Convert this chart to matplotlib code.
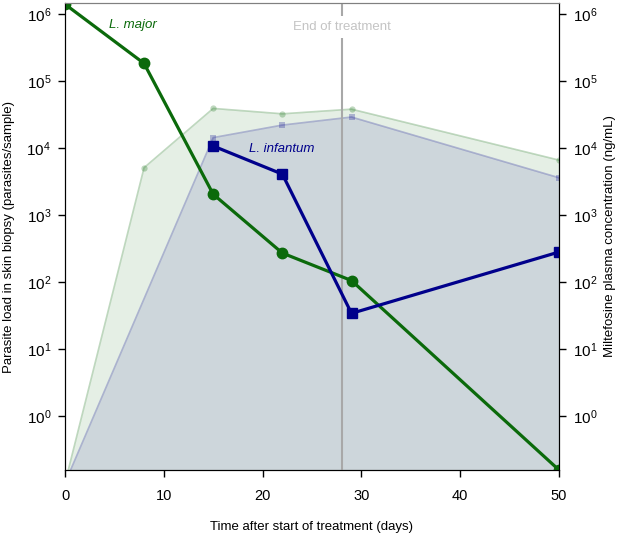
import matplotlib
matplotlib.use('Agg')
import matplotlib.pyplot as plt

plt.rcParams['font.family'] = ['Liberation Sans', 'DejaVu Sans']
plt.rcParams['mathtext.fontset'] = 'custom'
plt.rcParams['mathtext.rm'] = 'Liberation Sans'

# parasite load (skin biopsy)
major_days = [0, 8, 15, 22, 29, 50]
major_load = [1.4e6, 1.83e5, 2040, 270, 105, 0.156]
infantum_days = [15, 22, 29, 50]
infantum_load = [1.07e4, 4070, 34, 280]

# miltefosine plasma concentration
milt_major_days = [0, 8, 15, 22, 29, 50]
milt_major_conc = [0.1, 5080, 3.9e4, 3.24e4, 3.8e4, 6600]
milt_inf_days = [0, 15, 22, 29, 50]
milt_inf_conc = [0.1, 1.43e4, 2.2e4, 2.9e4, 3600]

end_of_treatment = 28
ymin, ymax = 0.156, 1.46e6

dgreen = '#0b6a0b'
navy = '#00008b'

fig = plt.figure(figsize=(6.27, 5.38), dpi=100)
ax = fig.add_axes([0.1037, 0.1264, 0.7878, 0.868])

# shaded miltefosine curves
ax.fill_between(milt_major_days, milt_major_conc, 1e-3, color=(0, 100/255, 0, 0.1), lw=0)
ax.plot(milt_major_days, milt_major_conc, '-o', color=(0, 100/255, 0), alpha=0.25, lw=1.2, ms=4.5, mew=0)
ax.fill_between(milt_inf_days, milt_inf_conc, 1e-3, color=(0, 0, 139/255, 0.1), lw=0)
ax.plot(milt_inf_days, milt_inf_conc, '-s', color=(0, 0, 139/255), alpha=0.25, lw=1.2, ms=4.5, mew=0)

# end of treatment
ax.axvline(end_of_treatment, color='#a8a8a8', lw=1.5, zorder=3)
ax.text(end_of_treatment, 0.949, 'End of treatment', transform=ax.get_xaxis_transform(),
        ha='center', va='center', color='#c4c4c4', fontsize=9.5, zorder=4,
        bbox=dict(facecolor='white', edgecolor='none', pad=3.5))

# parasite loads
ax.plot(major_days, major_load, '-o', color=dgreen, lw=2.3, ms=7.5, zorder=5)
ax.plot(infantum_days, infantum_load, '-s', color=navy, lw=2.3, ms=6.5, zorder=5)
ax.text(6.9, 0.953, 'L. major', transform=ax.get_xaxis_transform(), ha='center', va='center',
        style='italic', color=dgreen, fontsize=9.5)
ax.text(21.9, 0.687, 'L. infantum', transform=ax.get_xaxis_transform(), ha='center', va='center',
        style='italic', color=navy, fontsize=9.5)

ax.set_yscale('log')
ax.set_xlim(0, 50)
ax.set_ylim(ymin, ymax)
ax.set_yticks([10.0**k for k in range(0, 7)])
ax.minorticks_off()
ax.set_xticks([0, 10, 20, 30, 40, 50])
ax.tick_params(direction='out', length=5, width=1)
ax.tick_params(axis='y', labelsize=11, pad=5)
ax.tick_params(axis='x', labelsize=10.5, pad=9)
ax.spines['top'].set_color('#808080')
ax.set_xlabel('Time after start of treatment (days)', fontsize=9.5)
ax.xaxis.set_label_coords(0.5, -0.109)
ax.set_ylabel('Parasite load in skin biopsy (parasites/sample)', fontsize=9.5)
ax.yaxis.set_label_coords(-0.101, 0.5)

ax2 = ax.twinx()
ax2.set_yscale('log')
ax2.set_ylim(ymin, ymax)
ax2.set_yticks([10.0**k for k in range(0, 7)])
ax2.minorticks_off()
ax2.tick_params(direction='out', length=5, width=1, labelsize=11, pad=5)
ax2.spines['top'].set_color('#808080')
ax2.set_ylabel('Miltefosine plasma concentration (ng/mL)', fontsize=9.5)
ax2.yaxis.set_label_coords(1.092, 0.5)

fig.savefig('out.png', dpi=100)
